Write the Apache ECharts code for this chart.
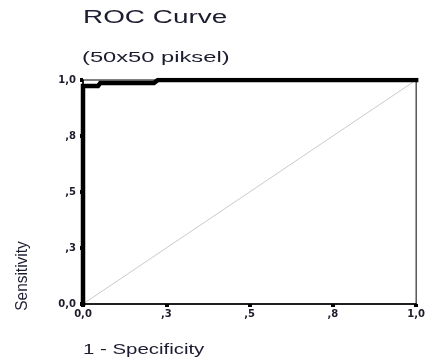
<!DOCTYPE html>
<html>
<head>
<meta charset="utf-8">
<script src="https://cdn.jsdelivr.net/npm/echarts@6/dist/echarts.min.js"></script>
<style>
html,body{margin:0;padding:0;background:#fff;}
#c{width:428px;height:358px;}
</style>
</head>
<body>
<div id="c"></div>
<script>
// ROC curve points (1 - Specificity, Sensitivity)
const rocFpr = [0, 0, 0.045, 0.052, 0.213, 0.225, 1];
const rocTpr = [0, 0.973, 0.973, 0.987, 0.987, 1, 1];
// reference diagonal
const refX = [0, 1];
const refY = [0, 1];
// tick labels (values at 0.25 steps, shown rounded with comma decimals)
const tickValues = [0, 0.25, 0.5, 0.75, 1];
const tickLabels = ['0,0', ',3', ',5', ',8', '1,0'];
const titleText = 'ROC Curve';
const subtitleText = '(50x50 piksel)';
const xName = '1 - Specificity';
const yName = 'Sensitivity';

function lab(v){
  for (let i = 0; i < tickValues.length; i++) {
    if (Math.abs(tickValues[i] - v) < 1e-6) return tickLabels[i];
  }
  return '';
}

const chart = echarts.init(document.getElementById('c'));
const labelStyle = {
  formatter: lab, color: '#1c1c2c', fontSize: 10, fontWeight: 'bold',
  fontFamily: 'DejaVu Sans'
};
chart.setOption({
  animation: false,
  backgroundColor: '#fff',
  grid: { left: 83, right: 6, top: 80, bottom: 54, show: true,
          borderColor: '#000', borderWidth: 1, backgroundColor: 'transparent' },
  xAxis: {
    type: 'value', min: 0, max: 1, interval: 0.25,
    axisLine: { lineStyle: { color: '#000', width: 1.5 } },
    axisTick: { length: 3, lineStyle: { color: '#000', width: 4 } },
    axisLabel: Object.assign({ margin: 5 }, labelStyle),
    splitLine: { show: false }
  },
  yAxis: {
    type: 'value', min: 0, max: 1, interval: 0.25,
    axisLine: { lineStyle: { color: '#000', width: 1.5 } },
    axisTick: { length: 3, lineStyle: { color: '#000', width: 4 } },
    axisLabel: Object.assign({ margin: 7 }, labelStyle),
    splitLine: { show: false }
  },
  series: [
    {
      type: 'line', data: refX.map((x, i) => [x, refY[i]]),
      showSymbol: false, silent: true,
      lineStyle: { color: '#bcbcbc', width: 0.8 }
    },
    {
      type: 'line', data: rocFpr.map((x, i) => [x, rocTpr[i]]),
      showSymbol: false, silent: true,
      lineStyle: { color: '#000', width: 4.5, cap: 'square', join: 'miter' }
    }
  ],
  graphic: [
    { type: 'text', x: 83, y: 18.5, scaleX: 1.55,
      style: { text: titleText, font: '18px "Liberation Sans"', fill: '#1c1c30',
               textAlign: 'left', textVerticalAlign: 'middle' } },
    { type: 'text', x: 82, y: 58, scaleX: 1.58,
      style: { text: subtitleText, font: '15px "Liberation Sans"', fill: '#1c1c30',
               textAlign: 'left', textVerticalAlign: 'middle' } },
    { type: 'text', x: 83, y: 350, scaleX: 1.36,
      style: { text: xName, font: '15px "Liberation Sans"', fill: '#1c1c30',
               textAlign: 'left', textVerticalAlign: 'middle' } },
    { type: 'text', x: 22, y: 276, rotation: Math.PI / 2, scaleX: 1.1, scaleY: 1.2,
      style: { text: yName, font: '14px "Liberation Sans"', fill: '#1c1c30',
               textAlign: 'center', textVerticalAlign: 'middle' } }
  ]
});
</script>
</body>
</html>
